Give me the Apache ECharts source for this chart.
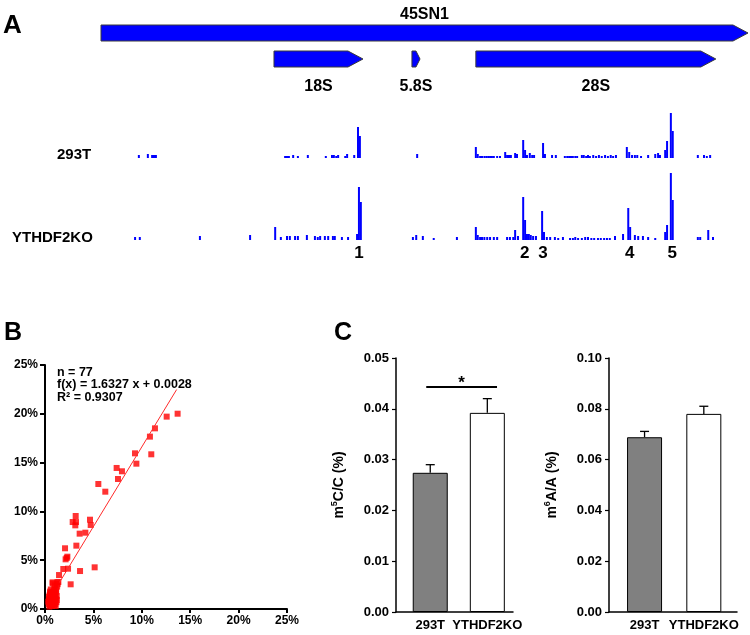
<!DOCTYPE html>
<html>
<head>
<meta charset="utf-8">
<script src="https://cdn.jsdelivr.net/npm/echarts@6/dist/echarts.min.js"></script>
<style>html,body{margin:0;padding:0;background:#fff}#c{width:750px;height:635px}</style>
</head>
<body>
<div id="c"></div>
<script>
// ---------- Panel A: gene model (positions in kb along 45S pre-rRNA) ----------
const geneNames = ['45SN1', '18S', '5.8S', '28S'];
const geneStart = [0, 3.655, 6.57, 7.92];
const geneEnd   = [13.67, 5.535, 6.74, 12.99];
const geneRow   = [0, 1, 1, 1];

// coverage tracks: [position kb, relative coverage]
const track293T = [
  [0.80,3],[0.99,4],[1.08,3],[1.12,3],[1.16,3],
  [3.89,2],[3.93,2],[3.97,2],[4.06,3],[4.16,2],[4.37,3],[4.75,2],[4.88,3],[4.92,3],[4.97,2],[5.01,3],[5.16,2],[5.20,4],[5.35,3],[5.43,31],[5.47,22],
  [6.68,4],
  [7.92,11],[7.96,4],[8.01,2],[8.05,2],[8.10,2],[8.14,2],[8.18,2],[8.22,2],[8.26,2],[8.30,2],[8.37,2],[8.43,2],[8.54,6],[8.58,3],[8.62,3],[8.66,3],[8.75,5],[8.79,4],[8.92,18],[8.96,8],[9.00,3],[9.06,5],[9.11,3],[9.15,3],[9.34,15],[9.38,4],[9.53,3],[9.61,3],
  [9.80,2],[9.85,2],[9.89,2],[9.93,2],[9.97,2],[10.02,2],[10.06,2],[10.16,3],[10.20,3],[10.25,2],[10.29,3],
  [10.33,2],[10.40,3],[10.46,2],[10.52,3],[10.58,2],[10.65,3],[10.71,2],[10.77,3],[10.82,2],[10.88,3],
  [11.11,11],[11.16,6],[11.22,3],[11.28,3],[11.33,3],[11.41,2],[11.56,3],[11.71,4],[11.77,5],[11.81,3],[11.92,8],[11.96,17],[12.04,45],[12.08,27],
  [12.61,3],[12.74,3],[12.80,2],[12.87,3]
];
const trackKO = [
  [0.72,3],[0.82,3],[2.09,4],[3.15,5],
  [3.68,13],[3.80,3],[3.93,4],[3.99,4],[4.10,4],[4.16,4],[4.35,5],[4.52,4],[4.58,3],[4.63,4],[4.73,4],[4.80,4],[4.90,4],[4.94,4],[5.09,3],[5.22,3],[5.41,6],[5.45,53],[5.49,38],
  [6.59,3],[6.66,5],[6.80,4],[7.03,2],[7.52,3],
  [7.92,13],[7.96,5],[8.01,3],[8.05,3],[8.10,3],[8.16,3],[8.22,3],[8.30,3],[8.37,3],[8.58,3],[8.64,3],[8.71,3],[8.75,10],[8.81,4],[8.92,43],[8.96,20],[9.00,6],[9.04,6],[9.08,5],[9.13,4],[9.19,4],[9.32,29],[9.36,8],[9.42,3],[9.49,3],[9.59,3],[9.66,2],[9.76,3],
  [9.91,2],[9.97,2],[10.02,3],[10.08,2],[10.16,2],[10.23,3],[10.29,3],
  [10.36,2],[10.42,2],[10.50,2],[10.56,2],[10.63,2],[10.69,2],[10.75,2],
  [10.86,4],[11.03,6],[11.14,32],[11.18,13],[11.28,5],[11.35,4],[11.45,4],[11.56,3],[11.71,2],[11.92,8],[11.96,15],[12.04,67],[12.08,40],
  [12.61,3],[12.66,3],[12.83,10],[12.93,3]
];
const trackNames = ['293T', 'YTHDF2KO'];
const peakIds = ['1', '2', '3', '4', '5'];
const peakPos = [5.45, 8.95, 9.34, 11.17, 12.07];

// ---------- Panel B: scatter (%), regression ----------
const scatterPts = [
  [13.70,20.01],[12.57,19.71],[11.36,18.51],[10.84,17.66],[9.30,15.95],[10.98,15.85],[9.44,14.89],[7.40,14.45],[7.95,14.11],[7.54,13.32],
  [5.51,12.81],[6.23,12.02],[3.17,9.53],[4.65,9.15],[2.86,8.91],[3.20,8.91],[3.13,8.57],[4.72,8.61],[3.58,7.72],[4.17,7.82],
  [3.24,6.49],[2.07,6.22],[2.31,5.36],[2.13,5.09],[2.24,5.23],[1.89,4.10],[2.38,4.13],[3.62,3.89],[5.13,4.27],[1.45,3.48],
  [2.65,2.53],[1.27,2.73],
  [1.03,2.42],[0.79,2.63],[0.52,1.78],[1.03,1.61],[0.41,1.26],[0.86,1.20],[1.21,1.33],[0.34,0.75],[0.69,0.92],[1.03,0.99],
  [0.59,0.41],[0.93,0.58],[1.10,0.31],[0.45,0.24],[0.79,2.73],[0.52,1.61],[1.14,1.09],[0.45,0.75],[0.86,0.65],[1.21,0.92],
  [0.52,0.41],[0.93,0.38],[1.14,1.95],[1.38,2.77],[0.62,1.45],[0.75,1.70],[0.95,2.10],[1.25,2.30],[0.40,1.00],[0.66,0.55],
  [0.88,0.95],[1.00,1.35],[1.15,1.75],[0.55,1.15],[0.72,0.30],[1.05,0.50],[0.38,0.50],[0.80,1.50],[1.30,2.55],[0.60,2.00],
  [0.48,1.40],[0.90,1.80],[1.18,0.70],[0.70,1.25],[0.98,0.80]
];
const fitSlope = 1.6327, fitIntercept = 0.0028;
const fitXRange = [1.5, 13.6];
const statLines = ['n = 77', 'f(x) = 1.6327 x + 0.0028', 'R² = 0.9307'];

// ---------- Panel C: bars ----------
const groups = ['293T', 'YTHDF2KO'];
const m5C = [0.0274, 0.0392];
const m5CErr = [0.0016, 0.0028];
const m6A = [0.0688, 0.0780];
const m6AErr = [0.0023, 0.0030];
const barColors = ['#808080', '#ffffff'];
const sigSpan = [0.93, 2.17, 0.0443]; // from, to, level (m5C panel)

const FONT = '"Liberation Sans", Arial, sans-serif';
const chart = echarts.init(document.getElementById('c'), null, {renderer: 'canvas'});

const hiddenX = (g, min, max) => ({type: 'value', gridIndex: g, min, max, show: false});
const hiddenY = (g, min, max, inverse) => ({type: 'value', gridIndex: g, min, max, inverse: !!inverse, show: false});

function bAxisLabel(margin) {
  return {color: '#000', fontWeight: 'bold', fontSize: 12, fontFamily: FONT, margin, formatter: v => v + '%'};
}
function cYAxis(g, max, interval, nameRich) {
  return {
    type: 'value', gridIndex: g, min: 0, max, interval,
    axisLine: {show: true, lineStyle: {color: '#000', width: 1.5}},
    axisTick: {show: true, inside: false, length: 4, lineStyle: {color: '#000', width: 1.2}},
    splitLine: {show: false},
    axisLabel: {color: '#000', fontWeight: 'bold', fontSize: 13, fontFamily: FONT, margin: 7, formatter: v => v.toFixed(2)},
    name: nameRich, nameLocation: 'middle', nameRotate: 90, nameGap: 48,
    nameTextStyle: {
      color: '#000', fontWeight: 'bold', fontSize: 14, fontFamily: FONT,
      rich: {
        a: {fontSize: 14, fontWeight: 'bold', fontFamily: FONT, color: '#000', lineHeight: 18},
        s: {fontSize: 9, fontWeight: 'bold', fontFamily: FONT, color: '#000', verticalAlign: 'top', lineHeight: 18, padding: [0, 0, 6, 0]}
      }
    }
  };
}
function cXAxis(g, min, max) {
  return {
    type: 'value', gridIndex: g, min, max,
    axisLine: {show: true, onZero: false, lineStyle: {color: '#000', width: 1.5}},
    axisTick: {show: false}, axisLabel: {show: false}, splitLine: {show: false}
  };
}

function errRender(params, api) {
  const x = api.value(0), v = api.value(1), e = api.value(2);
  const p0 = api.coord([x, v]), p1 = api.coord([x, v + e]);
  const cap = 4.5;
  return {type: 'group', children: [
    {type: 'line', shape: {x1: p0[0], y1: p0[1], x2: p1[0], y2: p1[1]}, style: {stroke: '#000', lineWidth: 1.3}},
    {type: 'line', shape: {x1: p1[0] - cap, y1: p1[1], x2: p1[0] + cap, y2: p1[1]}, style: {stroke: '#000', lineWidth: 1.3}}
  ]};
}
function catLabelRender(params, api) {
  const p = api.coord([api.value(0), 0]);
  return {type: 'text', silent: true, style: {text: groups[params.dataIndex], x: p[0], y: p[1] + 13, align: 'center', verticalAlign: 'middle',
    font: 'bold 13px ' + FONT, fill: '#000'}};
}

const option = {
  animation: false,
  backgroundColor: '#fff',
  grid: [
    {left: 101, width: 647, top: 20, height: 52},      // 0 genes
    {left: 101, width: 647, top: 88, height: 70},      // 1 293T track
    {left: 101, width: 647, top: 170, height: 70},     // 2 KO track
    {left: 45, width: 242, top: 365, height: 244},     // 3 scatter
    {left: 396, width: 117, top: 358, height: 254},    // 4 m5C
    {left: 609, width: 128, top: 358, height: 254}     // 5 m6A
  ],
  xAxis: [
    hiddenX(0, 0, 13.67), hiddenX(1, 0, 13.67), hiddenX(2, 0, 13.67),
    {type: 'value', gridIndex: 3, min: 0, max: 25, interval: 5,
      axisLine: {show: true, onZero: false, lineStyle: {color: '#000', width: 2}},
      axisTick: {show: true, length: 4, lineStyle: {color: '#000', width: 2}},
      splitLine: {show: false}, axisLabel: bAxisLabel(6)},
    cXAxis(4, 0.4, 2.45),
    cXAxis(5, 0.4, 2.56)
  ],
  yAxis: [
    hiddenY(0, -0.5, 1.5, true),
    hiddenY(1, 0, 70),
    hiddenY(2, 0, 70),
    {type: 'value', gridIndex: 3, min: 0, max: 25, interval: 5,
      axisLine: {show: true, onZero: false, lineStyle: {color: '#000', width: 2}},
      axisTick: {show: true, length: 5, lineStyle: {color: '#000', width: 2}},
      splitLine: {show: false}, axisLabel: bAxisLabel(7)},
    cYAxis(4, 0.05, 0.01, '{a|m}{s|5}{a|C/C (%)}'),
    cYAxis(5, 0.10, 0.02, '{a|m}{s|6}{a|A/A (%)}')
  ],
  graphic: [
    {type: 'text', left: 3, top: 13, style: {text: 'A', font: 'bold 26px ' + FONT, fill: '#000'}},
    {type: 'text', left: 4, top: 321, style: {text: 'B', font: 'bold 25px ' + FONT, fill: '#000'}},
    {type: 'text', left: 334, top: 321, style: {text: 'C', font: 'bold 25px ' + FONT, fill: '#000'}},
    {type: 'text', left: 57, top: 147, style: {text: trackNames[0], font: 'bold 15px ' + FONT, fill: '#000'}},
    {type: 'text', left: 12, top: 230, style: {text: trackNames[1], font: 'bold 15px ' + FONT, fill: '#000'}},
    {type: 'text', left: 57, top: 366, style: {text: statLines.join('\n'), font: 'bold 12.5px ' + FONT, lineHeight: 12.5, fill: '#000'}}
  ],
  series: [
    {type: 'custom', xAxisIndex: 0, yAxisIndex: 0, silent: true, clip: false,
      data: geneNames.map((n, i) => [geneStart[i], geneEnd[i], geneRow[i]]),
      encode: {x: [0, 1], y: 2},
      renderItem: function (params, api) {
        const s = api.value(0), e = api.value(1), r = api.value(2);
        const p0 = api.coord([s, r]), p1 = api.coord([e, r]);
        const h = 16, tip = Math.min(15, (p1[0] - p0[0]) * 0.5), y = p0[1];
        return {type: 'group', children: [
          {type: 'polygon', shape: {points: [[p0[0], y - h / 2], [p1[0] - tip, y - h / 2], [p1[0], y], [p1[0] - tip, y + h / 2], [p0[0], y + h / 2]]},
            style: {fill: '#0000ff', stroke: '#3a3a3a', lineWidth: 1}},
          {type: 'text', style: {text: geneNames[params.dataIndex], x: (p0[0] + p1[0]) / 2, y: r === 0 ? y - 18 : y + 28,
            align: 'center', verticalAlign: 'middle', font: 'bold 16px ' + FONT, fill: '#000'}}
        ]};
      }},
    {type: 'bar', xAxisIndex: 1, yAxisIndex: 1, data: track293T, barWidth: 2, itemStyle: {color: '#0000ff'}, silent: true},
    {type: 'bar', xAxisIndex: 2, yAxisIndex: 2, data: trackKO, barWidth: 2, itemStyle: {color: '#0000ff'}, silent: true},
    {type: 'custom', xAxisIndex: 2, yAxisIndex: 2, silent: true, clip: false,
      data: peakPos.map(p => [p, 0]),
      renderItem: function (params, api) {
        const p = api.coord([api.value(0), 0]);
        return {type: 'text', style: {text: peakIds[params.dataIndex], x: p[0], y: p[1] + 13, align: 'center', verticalAlign: 'middle',
          font: 'bold 17px ' + FONT, fill: '#000'}};
      }},
    {type: 'scatter', xAxisIndex: 3, yAxisIndex: 3, data: scatterPts, symbol: 'rect', symbolSize: 6,
      itemStyle: {color: '#ff0000'}, silent: true},
    {type: 'line', xAxisIndex: 3, yAxisIndex: 3, symbol: 'none', silent: true,
      data: fitXRange.map(x => [x, (fitSlope * x / 100 + fitIntercept) * 100]),
      lineStyle: {color: '#ff2a2a', width: 1}},
    {type: 'bar', xAxisIndex: 4, yAxisIndex: 4, barWidth: 35, silent: true,
      data: m5C.map((v, i) => ({value: [i + 1, v], itemStyle: {color: barColors[i], borderColor: '#000', borderWidth: 1}}))},
    {type: 'custom', xAxisIndex: 4, yAxisIndex: 4, silent: true, clip: false,
      data: m5C.map((v, i) => [i + 1, v, m5CErr[i]]), renderItem: errRender},
    {type: 'custom', xAxisIndex: 4, yAxisIndex: 4, silent: true, clip: false,
      data: groups.map((g, i) => [i + 1, 0]), renderItem: catLabelRender},
    {type: 'custom', xAxisIndex: 4, yAxisIndex: 4, silent: true, clip: false,
      data: [sigSpan],
      renderItem: function (params, api) {
        const a = api.coord([api.value(0), api.value(2)]), b = api.coord([api.value(1), api.value(2)]);
        return {type: 'group', children: [
          {type: 'line', shape: {x1: a[0], y1: a[1], x2: b[0], y2: b[1]}, style: {stroke: '#000', lineWidth: 2}},
          {type: 'text', style: {text: '*', x: (a[0] + b[0]) / 2, y: a[1] - 4, align: 'center', verticalAlign: 'middle', font: 'bold 17px ' + FONT, fill: '#000'}}
        ]};
      }},
    {type: 'bar', xAxisIndex: 5, yAxisIndex: 5, barWidth: 35, silent: true,
      data: m6A.map((v, i) => ({value: [i + 1, v], itemStyle: {color: barColors[i], borderColor: '#000', borderWidth: 1}}))},
    {type: 'custom', xAxisIndex: 5, yAxisIndex: 5, silent: true, clip: false,
      data: m6A.map((v, i) => [i + 1, v, m6AErr[i]]), renderItem: errRender},
    {type: 'custom', xAxisIndex: 5, yAxisIndex: 5, silent: true, clip: false,
      data: groups.map((g, i) => [i + 1, 0]), renderItem: catLabelRender}
  ]
};
chart.setOption(option);
</script>
</body>
</html>
